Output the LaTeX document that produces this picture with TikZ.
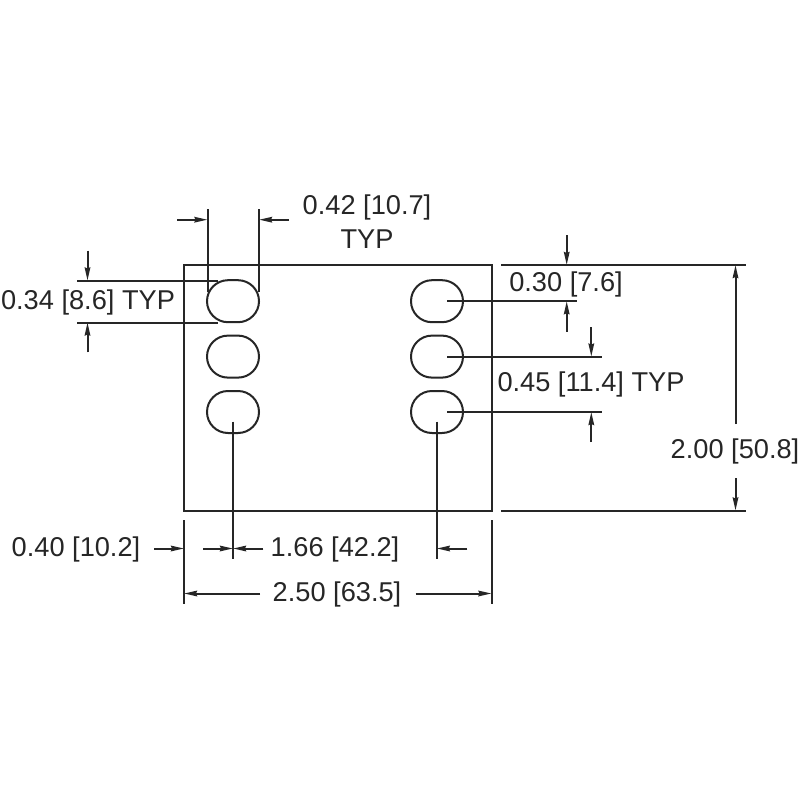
\documentclass[tikz,border=0pt]{standalone}
\usepackage{fontspec}
\setmainfont{Liberation Sans}
\usetikzlibrary{arrows.meta,shapes.misc}
\definecolor{ink}{HTML}{262626}
\tikzset{
  part/.style={draw=ink,line width=2pt},
  slot/.style={rounded rectangle,draw=ink,line width=2pt,minimum width=52pt,minimum height=42pt,inner sep=0pt,outer sep=0pt},
  extline/.style={draw=ink,line width=2pt},
  dimarrow/.style={draw=ink,line width=2pt,-{Stealth[length=13pt,width=5.5pt,inset=1pt]}},
  dimtext/.style={text=ink,inner sep=0pt,font=\fontsize{27.2}{30}\selectfont,anchor=center}
}
\begin{document}
\begin{tikzpicture}[x=1pt,y=-1pt]
\useasboundingbox (0,0) rectangle (800,800);
\fill[white] (0,0) rectangle (800,800);
\draw[part] (184,265) rectangle (491.5,510.5);
% slots
\node[slot] (a1) at (233,301.2) {};
\node[slot] (a2) at (233,356.6) {};
\node[slot] (a3) at (233,412) {};
\node[slot] (b1) at (437,301.2) {};
\node[slot] (b2) at (437,356.6) {};
\node[slot] (b3) at (437,412) {};
% top pitch width
\draw[extline] (207.5,209.3) -- (207.5,291.7);
\draw[extline] (259,209.3) -- (259,291.7);
\draw[dimarrow] (177.3,219.7) -- (207.5,219.7);
\draw[dimarrow] (289,219.7) -- (259,219.7);
\node[dimtext] (t042) at (367,207) {0.42 [10.7]};
\node[dimtext] (ttyp) at (367,239) {TYP};
% left height
\draw[extline] (77,280.5) -- (218,280.5);
\draw[extline] (77,322.5) -- (218,322.5);
\draw[dimarrow] (87.5,250.7) -- (87.5,280.5);
\draw[dimarrow] (87.5,352.3) -- (87.5,322.5);
\node[dimtext] (t034) at (88,302) {0.34 [8.6] TYP};
% right side
\draw[extline] (501,265) -- (746,265);
\draw[extline] (501,510.5) -- (746,510.5);
\draw[extline] (b1.center) ++(10.3,0) -- (577.3,301.2);
\draw[extline] (b2.center) ++(10.3,0) -- (602.3,356.6);
\draw[extline] (b3.center) ++(10.3,0) -- (602.3,412);
\draw[dimarrow] (566.7,235) -- (566.7,265);
\draw[dimarrow] (566.7,331.7) -- (566.7,301.2);
\node[dimtext] (t030) at (566,284) {0.30 [7.6]};
\draw[dimarrow] (591.3,327.3) -- (591.3,356.6);
\draw[dimarrow] (591.3,442) -- (591.3,412);
\node[dimtext] (t045) at (591,384) {0.45 [11.4] TYP};
\draw[dimarrow] (735.5,424) -- (735.5,265);
\draw[dimarrow] (735.5,478.3) -- (735.5,510.5);
\node[dimtext] (t200) at (735,451) {2.00 [50.8]};
% bottom
\draw[extline] (233,421.7) -- (233,559.3);
\draw[extline] (436.8,421.7) -- (436.8,559.3);
\draw[extline] (184,520) -- (184,604);
\draw[extline] (491.5,520) -- (491.5,604);
\draw[dimarrow] (154,548.5) -- (184,548.5);
\draw[dimarrow] (203.3,548.5) -- (233,548.5);
\draw[dimarrow] (263.3,548.5) -- (233,548.5);
\draw[dimarrow] (467.3,548.5) -- (436.8,548.5);
\node[dimtext] (t040) at (76,549.5) {0.40 [10.2]};
\node[dimtext] (t166) at (335,549.5) {1.66 [42.2]};
\draw[dimarrow] (260,593.5) -- (184,593.5);
\draw[dimarrow] (415.7,593.5) -- (491.5,593.5);
\node[dimtext] (t250) at (337,594) {2.50 [63.5]};
\end{tikzpicture}
\end{document}
